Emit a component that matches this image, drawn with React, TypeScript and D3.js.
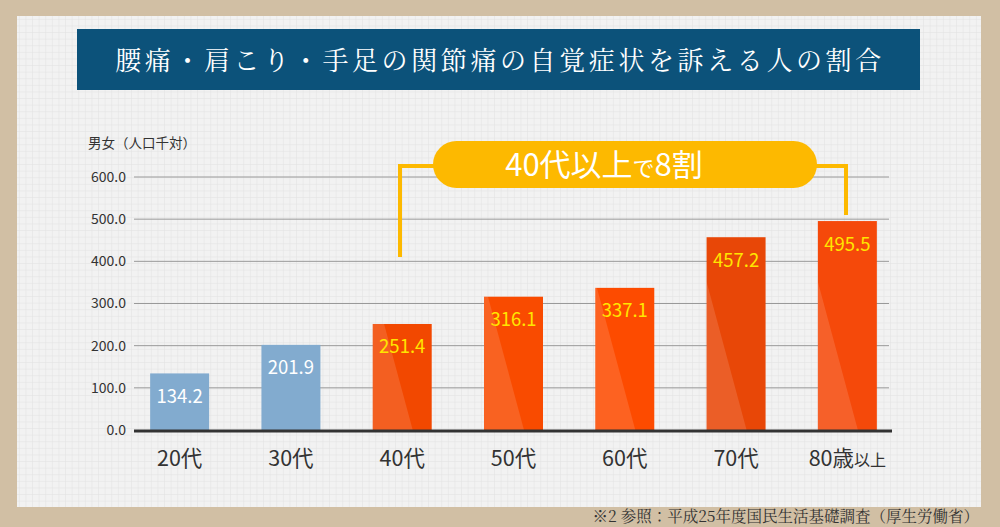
import React from "react";
import * as d3 from "d3";

const categories = ["20代", "30代", "40代", "50代", "60代", "70代", "80歳"];
const values = [134.2, 201.9, 251.4, 316.1, 337.1, 457.2, 495.5];
const barColors = ["#82abcf", "#82abcf", "#f24800", "#f94b00", "#fd4b00", "#e84707", "#f5490a"];
const yTicks = [0, 100, 200, 300, 400, 500, 600];

const title = "腰痛・肩こり・手足の関節痛の自覚症状を訴える人の割合";
const unitLabel = "男女（人口千対）";
const sourceNote = "※2 参照：平成25年度国民生活基礎調査（厚生労働省）";

const W = 1000;
const H = 527;
const sans = "'Noto Sans CJK JP', 'Open Sans', sans-serif";
const serif = "'Noto Serif CJK JP', 'DejaVu Serif', serif";

export default function App() {
  const x = d3.scaleBand<string>().domain(categories).range([124, 903]).paddingInner(0.47).paddingOuter(0.235);
  const y = d3.scaleLinear().domain([0, 600]).range([430, 177]);
  const bw = x.bandwidth();
  const slope = 0.27;

  // lighter diagonal stripe on the left of each orange bar
  const stripe = (x0: number, top: number, bottom: number) => {
    const h = bottom - top;
    const topX = 40 - slope * h;
    if (topX >= 0) {
      return `M${x0},${bottom}L${x0 + 40},${bottom}L${x0 + topX},${top}L${x0},${top}Z`;
    }
    const yHit = bottom - 40 / slope;
    return `M${x0},${bottom}L${x0 + 40},${bottom}L${x0},${yHit}Z`;
  };

  return (
    <svg width={W} height={H} style={{ position: "absolute", left: 0, top: 0, display: "block" }}>
      <defs>
        <pattern id="grid" width={6.6} height={6.6} patternUnits="userSpaceOnUse">
          <rect width={6.6} height={6.6} fill="#f2f2f2" />
          <path d="M6.6,0V6.6M0,6.6H6.6" stroke="#e1e1e1" strokeWidth={1} />
        </pattern>
      </defs>
      <rect width={W} height={H} fill="#d1bfa4" />
      <rect x={17} y={16} width={964} height={491} fill="url(#grid)" />

      {/* title */}
      <rect x={77} y={29} width={843} height={61} fill="#0c527a" />
      <text x={500} y={70} textAnchor="middle" fill="#fff" fontFamily={serif} fontSize={26} letterSpacing={3.6}>
        {title}
      </text>

      <text x={88} y={148} fill="#333" fontFamily={sans} fontSize={13.5}>{unitLabel}</text>

      {/* gridlines and ticks */}
      {yTicks.map((t) => (
        <g key={t}>
          {t > 0 && <line x1={134} x2={889} y1={y(t)} y2={y(t)} stroke="#999" strokeWidth={1} />}
          <text x={126} y={y(t)} dy="0.35em" textAnchor="end" fill="#333" fontFamily={sans} fontSize={14}>
            {t.toFixed(1)}
          </text>
        </g>
      ))}

      {/* bars */}
      {values.map((v, i) => {
        const x0 = x(categories[i])!;
        const top = y(v);
        const bottom = y(0);
        const blue = i < 2;
        return (
          <g key={categories[i]}>
            <rect x={x0} y={top} width={bw} height={bottom - top} fill={barColors[i]} />
            {!blue && <path d={stripe(x0, top, bottom)} fill="#fff" fillOpacity={0.13} />}
            <text x={x0 + bw / 2} y={top + 23} dy="0.35em" textAnchor="middle" fill={blue ? "#fff" : "#ffe600"} fontFamily={sans} fontSize={18.5}>
              {v.toFixed(1)}
            </text>
          </g>
        );
      })}
      <line x1={134} x2={892} y1={y(0) + 1} y2={y(0) + 1} stroke="#333" strokeWidth={3} />

      {/* x labels */}
      {categories.map((c, i) => (
        <text key={c} x={x(c)! + bw / 2} y={458} dy="0.35em" textAnchor="middle" fill="#333" fontFamily={sans} fontSize={21.5}>
          {c}
          {i === categories.length - 1 && <tspan fontSize={16}>以上</tspan>}
        </text>
      ))}

      {/* callout */}
      <path d="M400,257V166H440" fill="none" stroke="#fdb900" strokeWidth={4} />
      <path d="M810,166H846V215" fill="none" stroke="#fdb900" strokeWidth={4} />
      <rect x={433} y={141} width={384} height={47} rx={23.5} fill="#fdb900" />
      <text x={604} y={165} dy="0.35em" textAnchor="middle" fill="#fff" fontFamily={sans} fontSize={31}>
        40代以上<tspan fontSize={22}>で</tspan>8割
      </text>

      <text x={979} y={522} textAnchor="end" fill="#333" fontFamily={serif} fontSize={15.5}>{sourceNote}</text>
    </svg>
  );
}
